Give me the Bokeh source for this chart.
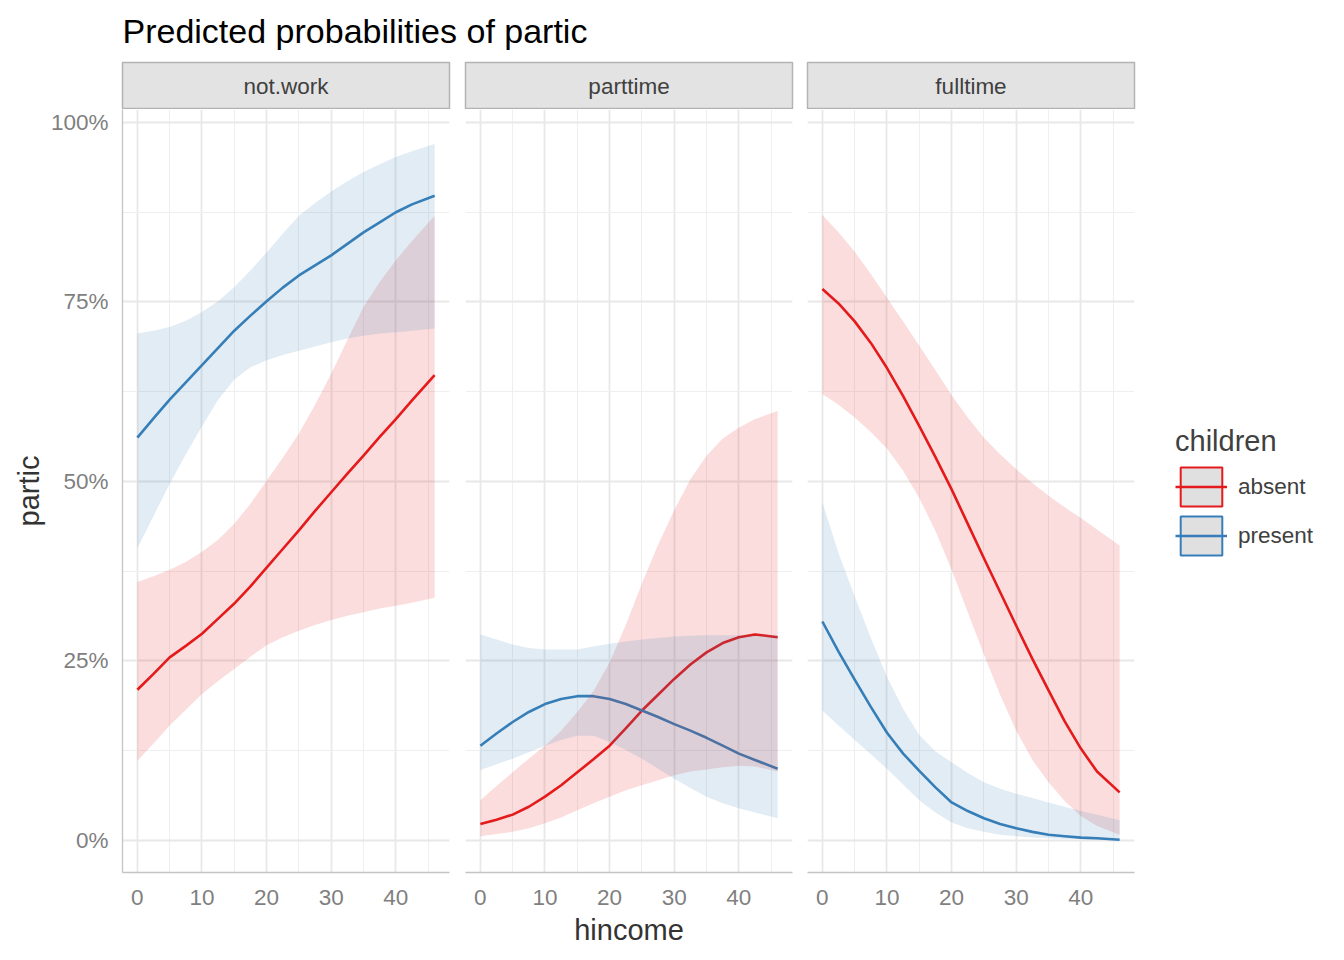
import math
from bokeh.plotting import figure
from bokeh.layouts import column, row
from bokeh.models import (Range1d, FixedTicker, NumeralTickFormatter, Label, Legend,
                          LegendItem, ColumnDataSource)
from bokeh.embed import file_html
from bokeh.resources import INLINE

FONT = "Liberation Sans"

# ---------------- data ----------------
title_text = "Predicted probabilities of partic"
x_label = "hincome"
y_label = "partic"
legend_title = "children"
facets = ["not.work", "parttime", "fulltime"]
groups = ["absent", "present"]

hincome = [0, 2.5, 5, 7.5, 10, 12.5, 15, 17.5, 20, 22.5, 25, 27.5, 30, 32.5, 35, 37.5, 40, 42.5, 46]

# not.work
notwork_absent_fit = [0.210, 0.232, 0.255, 0.271, 0.288, 0.309, 0.330, 0.354, 0.380, 0.406, 0.432,
                      0.459, 0.485, 0.511, 0.536, 0.562, 0.587, 0.613, 0.648]
notwork_absent_lo = [0.111, 0.135, 0.160, 0.182, 0.204, 0.222, 0.239, 0.256, 0.272, 0.283, 0.292,
                     0.300, 0.307, 0.313, 0.318, 0.323, 0.327, 0.331, 0.338]
notwork_absent_hi = [0.360, 0.368, 0.377, 0.388, 0.402, 0.419, 0.441, 0.469, 0.501, 0.533, 0.567,
                     0.607, 0.650, 0.697, 0.743, 0.778, 0.808, 0.835, 0.870]
notwork_present_fit = [0.561, 0.588, 0.614, 0.638, 0.662, 0.686, 0.710, 0.731, 0.751, 0.770, 0.787,
                       0.801, 0.815, 0.831, 0.847, 0.861, 0.875, 0.886, 0.898]
notwork_present_lo = [0.407, 0.452, 0.497, 0.538, 0.577, 0.614, 0.642, 0.659, 0.669, 0.676, 0.682,
                      0.688, 0.694, 0.699, 0.703, 0.706, 0.708, 0.710, 0.713]
notwork_present_hi = [0.706, 0.710, 0.715, 0.724, 0.736, 0.751, 0.771, 0.794, 0.819, 0.845, 0.870,
                      0.888, 0.904, 0.918, 0.931, 0.942, 0.952, 0.960, 0.970]

# parttime
parttime_absent_fit = [0.023, 0.029, 0.036, 0.047, 0.061, 0.077, 0.095, 0.113, 0.132, 0.156, 0.181,
                       0.203, 0.225, 0.245, 0.262, 0.275, 0.283, 0.287, 0.283]
parttime_absent_lo = [0.006, 0.009, 0.012, 0.017, 0.024, 0.032, 0.042, 0.052, 0.061, 0.070, 0.077,
                      0.084, 0.091, 0.096, 0.099, 0.102, 0.104, 0.103, 0.096]
parttime_absent_hi = [0.056, 0.076, 0.095, 0.114, 0.132, 0.153, 0.179, 0.208, 0.248, 0.300, 0.358,
                      0.412, 0.460, 0.503, 0.536, 0.560, 0.575, 0.587, 0.598]
parttime_present_fit = [0.132, 0.149, 0.165, 0.179, 0.190, 0.197, 0.201, 0.201, 0.197, 0.190, 0.181,
                        0.172, 0.162, 0.153, 0.143, 0.132, 0.121, 0.112, 0.100]
parttime_present_lo = [0.098, 0.106, 0.114, 0.123, 0.132, 0.140, 0.146, 0.146, 0.137, 0.126, 0.114,
                       0.100, 0.086, 0.073, 0.061, 0.052, 0.045, 0.039, 0.031]
parttime_present_hi = [0.287, 0.280, 0.273, 0.268, 0.266, 0.266, 0.266, 0.270, 0.274, 0.277, 0.280,
                       0.282, 0.284, 0.285, 0.286, 0.286, 0.286, 0.286, 0.286]

# fulltime
fulltime_absent_fit = [0.768, 0.748, 0.723, 0.693, 0.658, 0.619, 0.577, 0.534, 0.489, 0.441, 0.393,
                       0.346, 0.299, 0.253, 0.209, 0.166, 0.128, 0.096, 0.067]
fulltime_absent_lo = [0.622, 0.607, 0.589, 0.569, 0.546, 0.515, 0.477, 0.431, 0.377, 0.318, 0.259,
                      0.203, 0.153, 0.112, 0.081, 0.055, 0.034, 0.020, 0.008]
fulltime_absent_hi = [0.871, 0.847, 0.820, 0.789, 0.756, 0.723, 0.689, 0.655, 0.620, 0.589, 0.561,
                      0.538, 0.517, 0.498, 0.480, 0.464, 0.449, 0.433, 0.411]
fulltime_present_fit = [0.305, 0.263, 0.224, 0.186, 0.150, 0.121, 0.097, 0.074, 0.053, 0.041, 0.031,
                        0.023, 0.017, 0.012, 0.008, 0.006, 0.004, 0.003, 0.001]
fulltime_present_lo = [0.181, 0.160, 0.140, 0.120, 0.100, 0.078, 0.056, 0.039, 0.025, 0.017, 0.012,
                       0.008, 0.006, 0.004, 0.003, 0.002, 0.002, 0.001, 0.001]
fulltime_present_hi = [0.471, 0.400, 0.340, 0.282, 0.228, 0.183, 0.147, 0.124, 0.109, 0.094, 0.081,
                       0.072, 0.065, 0.059, 0.053, 0.047, 0.041, 0.036, 0.028]

x_ticks = [0, 10, 20, 30, 40]
x_minor_ticks = [5, 15, 25, 35, 45]
y_ticks = [0, 0.25, 0.5, 0.75, 1.0]
y_minor_ticks = [0.125, 0.375, 0.625, 0.875]

panel_data = {
    "not.work": {
        "absent": (notwork_absent_fit, notwork_absent_lo, notwork_absent_hi),
        "present": (notwork_present_fit, notwork_present_lo, notwork_present_hi),
    },
    "parttime": {
        "absent": (parttime_absent_fit, parttime_absent_lo, parttime_absent_hi),
        "present": (parttime_present_fit, parttime_present_lo, parttime_present_hi),
    },
    "fulltime": {
        "absent": (fulltime_absent_fit, fulltime_absent_lo, fulltime_absent_hi),
        "present": (fulltime_present_fit, fulltime_present_lo, fulltime_present_hi),
    },
}

# ---------------- style ----------------
colors = {"absent": "#e41a1c", "present": "#377eb8"}
FRAME_W = 327
FRAME_H = 763
STRIP_H = 46
left_borders = [122, 8, 7]
right_borders = [8, 8, 8]
BOTTOM = 84
TITLE_H = 58
LEGEND_W = 192
PANELS_W = sum(left_borders) + sum(right_borders) + 3 * FRAME_W
TOTAL_W = PANELS_W + LEGEND_W
PANEL_H = FRAME_H + BOTTOM

X_RANGE = (-2.3, 48.3)
Y_RANGE = (-0.0446, 1.0181)

# ---------------- title ----------------
tfig = figure(width=TOTAL_W, height=TITLE_H, output_backend="svg", toolbar_location=None,
              x_axis_type=None, y_axis_type=None, min_border=0,
              x_range=Range1d(0, 1), y_range=Range1d(0, 1), outline_line_color=None)
tfig.add_layout(Label(x=122, y=TITLE_H - 30, x_units="screen", y_units="screen", text=title_text,
                      text_font=FONT, text_font_size="34px", text_color="#000000",
                      text_baseline="middle", text_align="left"))

strips = []
panels = []
for i, facet in enumerate(facets):
    w = left_borders[i] + FRAME_W + right_borders[i]
    # strip
    s = figure(width=w, height=STRIP_H + 5, output_backend="svg", toolbar_location=None,
               x_axis_type=None, y_axis_type=None,
               min_border_left=left_borders[i], min_border_right=right_borders[i],
               min_border_top=4, min_border_bottom=1,
               x_range=Range1d(0, 1), y_range=Range1d(0, 1),
               background_fill_color="#e3e3e3", outline_line_color="#b3b3b3",
               outline_line_width=1.5)
    s.add_layout(Label(x=FRAME_W / 2, y=STRIP_H / 2 - 1, x_units="screen", y_units="screen",
                       text=facet, text_font=FONT, text_font_size="22.5px",
                       text_color="#404040", text_align="center", text_baseline="middle"))
    strips.append(s)

    # panel
    p = figure(width=w, height=PANEL_H, output_backend="svg", toolbar_location=None,
               min_border_left=left_borders[i], min_border_right=right_borders[i],
               min_border_top=0, min_border_bottom=BOTTOM,
               x_range=Range1d(*X_RANGE), y_range=Range1d(*Y_RANGE),
               outline_line_color=None, background_fill_color="white")
    src = ColumnDataSource(dict(
        x=hincome,
        absent_fit=panel_data[facet]["absent"][0],
        absent_lo=panel_data[facet]["absent"][1],
        absent_hi=panel_data[facet]["absent"][2],
        present_fit=panel_data[facet]["present"][0],
        present_lo=panel_data[facet]["present"][1],
        present_hi=panel_data[facet]["present"][2],
    ))
    for g in groups:
        p.line("x", g + "_fit", source=src, line_color=colors[g], line_width=2.6,
               line_join="round")
    for g in groups:
        p.varea("x", g + "_lo", g + "_hi", source=src, fill_color=colors[g], fill_alpha=0.15)

    # axes
    p.xaxis.ticker = FixedTicker(ticks=x_ticks, minor_ticks=x_minor_ticks)
    p.yaxis.ticker = FixedTicker(ticks=y_ticks, minor_ticks=y_minor_ticks)
    p.yaxis.formatter = NumeralTickFormatter(format="0%")
    for ax in (p.xaxis, p.yaxis):
        ax.major_tick_line_color = None
        ax.minor_tick_line_color = None
        ax.major_tick_out = 0
        ax.major_tick_in = 0
        ax.minor_tick_out = 0
        ax.minor_tick_in = 0
        ax.axis_line_color = "#c4c4c4"
        ax.axis_line_width = 1.3
        ax.major_label_text_font = FONT
        ax.major_label_text_font_size = "22.5px"
        ax.major_label_text_color = "#7f7f7f"
        ax.axis_label_text_font = FONT
        ax.axis_label_text_font_size = "29px"
        ax.axis_label_text_font_style = "normal"
        ax.axis_label_text_color = "#333333"
    p.xaxis.major_label_standoff = 17
    p.yaxis.major_label_standoff = 14
    p.xaxis.axis_label_standoff = 6
    p.yaxis.axis_label_standoff = 3
    if i == 0:
        p.yaxis.axis_label = y_label
    else:
        p.yaxis.visible = False
    if i == 1:
        p.xaxis.axis_label = x_label

    p.xgrid.grid_line_color = "#e8e8e8"
    p.ygrid.grid_line_color = "#e8e8e8"
    p.xgrid.grid_line_width = 1.8
    p.ygrid.grid_line_width = 1.8
    p.xgrid.minor_grid_line_color = "#efefef"
    p.ygrid.minor_grid_line_color = "#efefef"
    p.xgrid.minor_grid_line_width = 1
    p.ygrid.minor_grid_line_width = 1
    panels.append(p)

# ---------------- legend ----------------
lfig = figure(width=LEGEND_W, height=PANEL_H, output_backend="svg", toolbar_location=None,
              x_axis_type=None, y_axis_type=None, min_border=0,
              x_range=Range1d(0, 1), y_range=Range1d(0, 1), outline_line_color=None)
items = []
for g in groups:
    nan_src = ColumnDataSource(dict(l=[math.nan], r=[math.nan], t=[math.nan], b=[math.nan]))
    key_r = lfig.quad(left="l", right="r", top="t", bottom="b", source=nan_src,
                      fill_color="#e0e0e0", line_color=colors[g], line_width=2)
    line_r = lfig.line(x="l", y="t", source=nan_src, line_color=colors[g], line_width=2.6)
    items.append(LegendItem(label=g, renderers=[key_r, line_r]))
legend = Legend(items=items, location=(33, 312), orientation="vertical",
                title=legend_title, title_text_font=FONT, title_text_font_size="29px",
                title_text_color="#404040", title_text_font_style="normal",
                title_standoff=4,
                label_text_font=FONT, label_text_font_size="22.5px",
                label_text_color="#404040", label_standoff=11,
                glyph_width=52, glyph_height=49, label_height=49, spacing=0,
                padding=0, margin=0, border_line_color=None,
                background_fill_alpha=0)
lfig.add_layout(legend, "center")

layout = column(tfig, row(*strips), row(*panels, lfig))

open("out.html", "w").write(file_html(layout, INLINE, title="Predicted probabilities of partic"))
